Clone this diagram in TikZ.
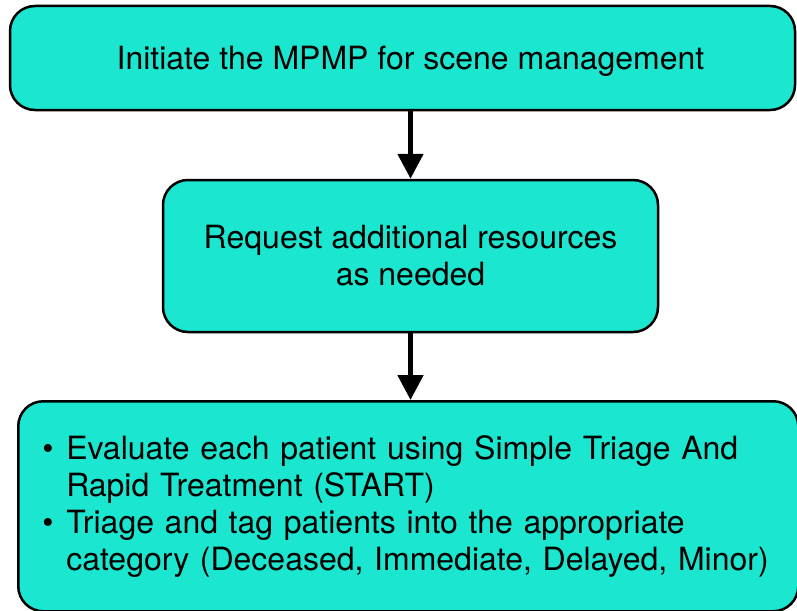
\documentclass[tikz,border=0pt]{standalone}
\usepackage{fontspec}
\setmainfont{TeX Gyre Heros}
\usetikzlibrary{arrows.meta}
\definecolor{boxteal}{HTML}{1BE7D1}
\tikzset{>={Triangle[length=25pt, width=25pt]}}
\tikzset{stage/.style={draw, line width=2.5pt, rounded corners=25pt, fill=boxteal,
    inner sep=0pt, font=\fontsize{32}{37}\selectfont}}

\begin{document}
\begin{tikzpicture}[x=1pt, y=-1pt]
      \useasboundingbox (0,0) rectangle (797,610);
      \clip (0,0) rectangle (797,610);
      % boxes
      \node[stage, minimum width=785pt, minimum height=104pt, text height=30pt, text depth=6pt] (scene) at (402.5,58)
        {\hspace*{16pt}Initiate the MPMP for scene management};
      \node[stage, minimum width=495pt, minimum height=152pt, align=center] (request) at (410.5,256)
        {Request additional resources\\as needed};
      \node[stage, anchor=north west, minimum width=780pt, minimum height=210pt,
        text width=732pt, inner xsep=24pt, align=left] (triage) at (17,400)
        {\makebox[24pt][l]{\textbullet}Evaluate each patient using Simple Triage And\\
         \hspace*{24pt}Rapid Treatment (START)\\
         \makebox[24pt][l]{\textbullet}Triage and tag patients into the appropriate\\
         \hspace*{24pt}category (Deceased, Immediate, Delayed, Minor)};
      % arrows
      \draw[->, line width=5pt] (scene.south -| request.north) -- (request.north);
      \draw[->, line width=5pt] (request.south) -- (request.south |- triage.north);
\end{tikzpicture}
\end{document}
